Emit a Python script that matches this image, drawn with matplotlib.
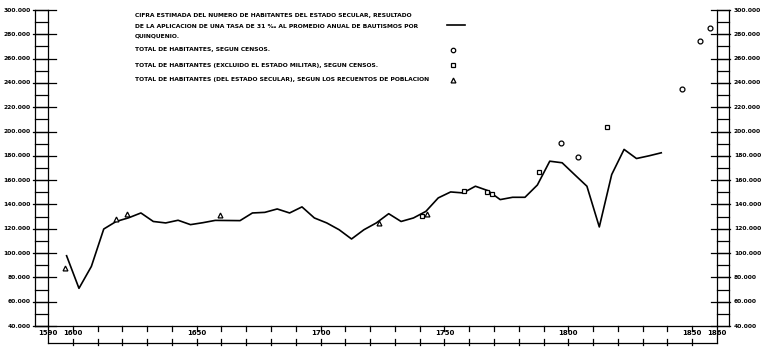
import numpy as np
import matplotlib
matplotlib.use('Agg')
import matplotlib.pyplot as plt

# estimated population, one value per quinquennium (mid-point)
line_years = np.arange(1597.5, 1840, 5)
line_vals = [97.8, 71.0, 89.0, 119.8, 126.0, 129.0, 133.0, 126.0, 124.8, 127.0,
             123.4, 125.0, 126.9, 126.8, 126.7, 133.0, 133.5, 136.3, 133.0, 138.0,
             128.9, 124.8, 119.2, 111.6, 119.2, 124.8, 132.4, 126.0, 128.9, 134.3,
             145.4, 150.3, 149.5, 155.0, 151.4, 144.0, 145.9, 145.9, 156.0, 175.6,
             174.3, 164.6, 155.0, 121.5, 164.6, 185.3, 177.8, 180.0, 182.5]

# total, censuses (circles)
census_years = [1797, 1804, 1846, 1853, 1857]
census_vals = [190.8, 179.3, 234.8, 274.2, 285.1]

# total excluding military (squares)
civil_years = [1741, 1758, 1767, 1769, 1788, 1815.5]
civil_vals = [130.2, 151.4, 150.0, 149.0, 166.9, 204.0]

# secular population counts (triangles)
count_years = [1597, 1617.5, 1622, 1659.5, 1723.5, 1743]
count_vals = [87.9, 128.3, 132.4, 131.6, 125.0, 132.2]

xtick_pos = [1590, 1600, 1650, 1700, 1750, 1800, 1850, 1860]
xtick_lab = ['1590', '1600', '1650', '1700', '1750', '1800', '1850', '1860']

legend_lines = [
    'CIFRA ESTIMADA DEL NUMERO DE HABITANTES DEL ESTADO SECULAR, RESULTADO',
    'DE LA APLICACION DE UNA TASA DE 31 \u2030 AL PROMEDIO ANUAL DE BAUTISMOS POR',
    'QUINQUENIO.',
    'TOTAL DE HABITANTES, SEGUN CENSOS.',
    'TOTAL DE HABITANTES (EXCLUIDO EL ESTADO MILITAR), SEGUN CENSOS.',
    'TOTAL DE HABITANTES (DEL ESTADO SECULAR), SEGUN LOS RECUENTOS DE POBLACION',
]

W, H = 768, 354
fig = plt.figure(figsize=(W / 100, H / 100), dpi=100)
x0, x1, ytop, ybot = 48, 717, 10, 326
ax = fig.add_axes([x0 / W, (H - ybot) / H, (x1 - x0) / W, (ybot - ytop) / H])
ax.set_xlim(1590, 1860)
ax.set_ylim(40000, 300000)
ax.axis('off')

k = 1000
ax.plot(line_years, np.array(line_vals) * k, color='black', lw=1.2)
ax.plot(census_years, np.array(census_vals) * k, 'o', ms=3.5, mfc='white', mec='black', mew=0.9)
ax.plot(civil_years, np.array(civil_vals) * k, 's', ms=3.3, mfc='white', mec='black', mew=0.9)
ax.plot(count_years, np.array(count_vals) * k, '^', ms=3.5, mfc='white', mec='black', mew=0.9)

# ladders on both sides
axw = x1 - x0
axh = ybot - ytop
yt = ax.get_yaxis_transform()
lw = 0.9
for lx in [(35 - x0) / axw, 0.0, 1.0, (729 - x0) / axw]:
    ax.plot([lx, lx], [40000, 300000], color='black', lw=lw, transform=yt, clip_on=False)
for v in range(40000, 300001, 10000):
    ax.plot([(35 - x0) / axw, 0], [v, v], color='black', lw=lw, transform=yt, clip_on=False)
    ax.plot([1, (729 - x0) / axw], [v, v], color='black', lw=lw, transform=yt, clip_on=False)
    if v % 20000 == 0:
        ax.plot([(33 - x0) / axw, (56 - x0) / axw], [v, v], color='black', lw=lw,
                transform=yt, clip_on=False)
        ax.plot([(711 - x0) / axw, (730 - x0) / axw], [v, v], color='black', lw=lw,
                transform=yt, clip_on=False)
        lab = '{:,}'.format(v).replace(',', '.')
        ax.text((31 - x0) / axw, v, lab, transform=yt, ha='right', va='center',
                fontsize=4.3, fontweight='bold')
        ax.text((734 - x0) / axw, v, lab, transform=yt, ha='left', va='center',
                fontsize=4.3, fontweight='bold')

# x axis band
xt = ax.get_xaxis_transform()
yb = -(343 - ybot) / axh
ax.plot([1590, 1860], [yb, yb], color='black', lw=lw, transform=xt, clip_on=False)
ax.plot([1590, 1860], [0, 0], color='black', lw=lw, transform=xt, clip_on=False)
ax.plot([(35 - x0) / axw, 0], [0, 0], color='black', lw=lw, transform=ax.transAxes, clip_on=False)
for xe in [1590, 1860]:
    ax.plot([xe, xe], [0, yb], color='black', lw=lw, transform=xt, clip_on=False)
for yr in range(1600, 1860, 10):
    ax.plot([yr, yr], [0, -5 / axh], color='black', lw=lw, transform=xt, clip_on=False)
    ax.plot([yr, yr], [yb + 4 / axh, yb - 1.5 / axh], color='black', lw=lw, transform=xt, clip_on=False)
for p, l in zip(xtick_pos, xtick_lab):
    ax.text(p, -(333 - ybot) / axh, l, transform=xt, ha='center', va='center',
            fontsize=5, fontweight='bold')

# legend block
ys = [16, 26, 36, 50, 65, 80]
for t, yy in zip(legend_lines, ys):
    fig.text(135 / W, 1 - yy / H, t, ha='left', va='center', fontsize=4.3, fontweight='bold')
fig.add_artist(plt.Line2D([447 / W, 465 / W], [1 - 25 / H, 1 - 25 / H], color='black', lw=1.2))
fig.add_artist(plt.Line2D([453 / W], [1 - 50 / H], marker='o', ms=3.2, mfc='white', mec='black', mew=0.9))
fig.add_artist(plt.Line2D([453 / W], [1 - 65 / H], marker='s', ms=3.0, mfc='white', mec='black', mew=0.9))
fig.add_artist(plt.Line2D([453 / W], [1 - 80 / H], marker='^', ms=3.5, mfc='white', mec='black', mew=0.9))

fig.savefig('out.png', dpi=100)
